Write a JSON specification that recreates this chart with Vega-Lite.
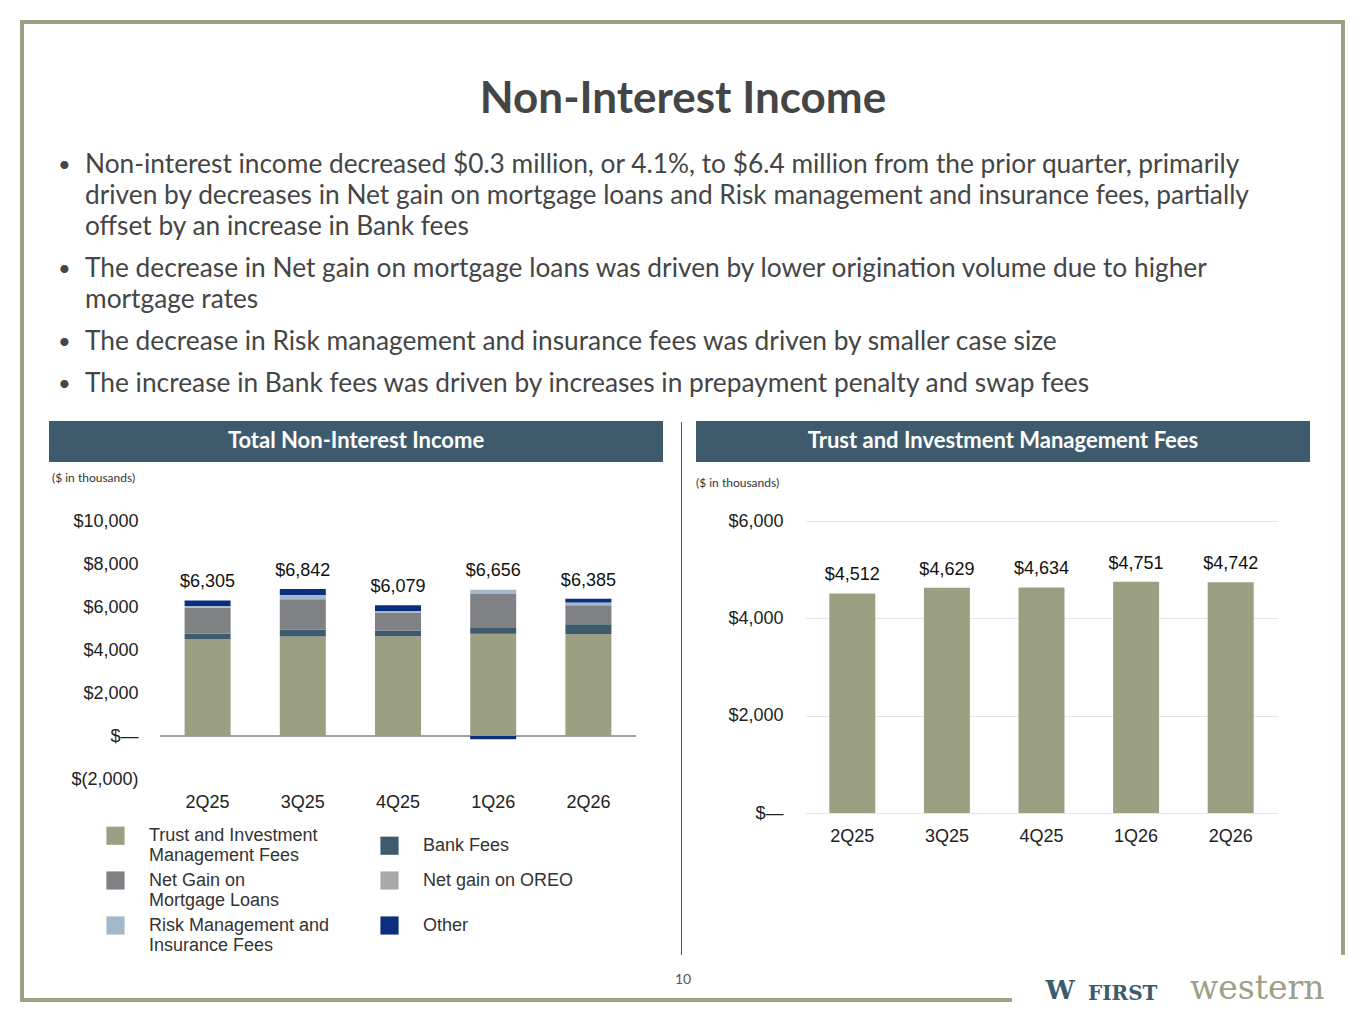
{
  "$schema": "https://vega.github.io/schema/vega-lite/v6.json",
  "background": "white",
  "padding": {"left": 20, "top": 20, "right": 0, "bottom": 0},
  "datasets": {
    "stack": [
      {"q": "2Q25", "cat": "Trust and Investment|Management Fees", "o": 1, "v": 4512},
      {"q": "2Q25", "cat": "Bank Fees", "o": 2, "v": 250},
      {"q": "2Q25", "cat": "Net Gain on|Mortgage Loans", "o": 3, "v": 1200},
      {"q": "2Q25", "cat": "Risk Management and|Insurance Fees", "o": 4, "v": 80},
      {"q": "2Q25", "cat": "Net gain on OREO", "o": 5, "v": 0},
      {"q": "2Q25", "cat": "Other", "o": 6, "v": 263},
      {"q": "3Q25", "cat": "Trust and Investment|Management Fees", "o": 1, "v": 4629},
      {"q": "3Q25", "cat": "Bank Fees", "o": 2, "v": 330},
      {"q": "3Q25", "cat": "Net Gain on|Mortgage Loans", "o": 3, "v": 1400},
      {"q": "3Q25", "cat": "Risk Management and|Insurance Fees", "o": 4, "v": 200},
      {"q": "3Q25", "cat": "Net gain on OREO", "o": 5, "v": 0},
      {"q": "3Q25", "cat": "Other", "o": 6, "v": 283},
      {"q": "4Q25", "cat": "Trust and Investment|Management Fees", "o": 1, "v": 4634},
      {"q": "4Q25", "cat": "Bank Fees", "o": 2, "v": 270},
      {"q": "4Q25", "cat": "Net Gain on|Mortgage Loans", "o": 3, "v": 845},
      {"q": "4Q25", "cat": "Risk Management and|Insurance Fees", "o": 4, "v": 60},
      {"q": "4Q25", "cat": "Net gain on OREO", "o": 5, "v": 0},
      {"q": "4Q25", "cat": "Other", "o": 6, "v": 270},
      {"q": "1Q26", "cat": "Trust and Investment|Management Fees", "o": 1, "v": 4751},
      {"q": "1Q26", "cat": "Bank Fees", "o": 2, "v": 310},
      {"q": "1Q26", "cat": "Net Gain on|Mortgage Loans", "o": 3, "v": 1545},
      {"q": "1Q26", "cat": "Risk Management and|Insurance Fees", "o": 4, "v": 200},
      {"q": "1Q26", "cat": "Net gain on OREO", "o": 5, "v": 0},
      {"q": "1Q26", "cat": "Other", "o": 6, "v": -150},
      {"q": "2Q26", "cat": "Trust and Investment|Management Fees", "o": 1, "v": 4742},
      {"q": "2Q26", "cat": "Bank Fees", "o": 2, "v": 450},
      {"q": "2Q26", "cat": "Net Gain on|Mortgage Loans", "o": 3, "v": 890},
      {"q": "2Q26", "cat": "Risk Management and|Insurance Fees", "o": 4, "v": 125},
      {"q": "2Q26", "cat": "Net gain on OREO", "o": 5, "v": 0},
      {"q": "2Q26", "cat": "Other", "o": 6, "v": 178}
    ],
    "totals": [
      {"q": "2Q25", "total": 6305, "top": 6305},
      {"q": "3Q25", "total": 6842, "top": 6842},
      {"q": "4Q25", "total": 6079, "top": 6079},
      {"q": "1Q26", "total": 6656, "top": 6856},
      {"q": "2Q26", "total": 6385, "top": 6385}
    ],
    "trust": [
      {"q": "2Q25", "v": 4512},
      {"q": "3Q25", "v": 4629},
      {"q": "4Q25", "v": 4634},
      {"q": "1Q26", "v": 4751},
      {"q": "2Q26", "v": 4742}
    ],
    "bullets": [
      {"line": 0, "b": "•", "t": "Non-interest income decreased $0.3 million, or 4.1%, to $6.4 million from the prior quarter, primarily"},
      {"line": 31, "b": "", "t": "driven by decreases in Net gain on mortgage loans and Risk management and insurance fees, partially"},
      {"line": 62, "b": "", "t": "offset by an increase in Bank fees"},
      {"line": 104, "b": "•", "t": "The decrease in Net gain on mortgage loans was driven by lower origination volume due to higher"},
      {"line": 135, "b": "", "t": "mortgage rates"},
      {"line": 177, "b": "•", "t": "The decrease in Risk management and insurance fees was driven by smaller case size"},
      {"line": 219, "b": "•", "t": "The increase in Bank fees was driven by increases in prepayment penalty and swap fees"}
    ],
    "one": [{"a": 1}]
  },
  "bounds": "flush",
  "spacing": 100,
  "vconcat": [
    {
      "width": 1100,
      "height": 256,
      "layer": [
        {
          "data": {"name": "bullets"},
          "encoding": {"y": {"field": "line", "type": "quantitative", "scale": {"domain": [0, 256], "range": [0, 256]}, "axis": null}},
          "layer": [
            {
              "mark": {"type": "text", "align": "left", "baseline": "middle", "font": "Lato", "fontSize": 26.3, "color": "#454545", "x": -75},
              "encoding": {"text": {"field": "t"}}
            },
            {
              "mark": {"type": "text", "align": "left", "baseline": "middle", "font": "Lato", "fontSize": 22, "color": "#454545", "x": -102},
              "encoding": {"text": {"field": "b"}}
            }
          ]
        },
        {
          "data": {"name": "one"},
          "layer": [
            {"mark": {"type": "text", "text": "Non-Interest Income", "fontSize": 44, "font": "Lato", "fontWeight": "bold", "color": "#454545", "x": 523, "y": -65, "baseline": "middle"}},
            {"mark": {"type": "rect", "color": "#9da085", "x": -140, "x2": 1185, "y": -145, "y2": -141}},
            {"mark": {"type": "rect", "color": "#9da085", "x": -140, "x2": -136, "y": -145, "y2": 837}},
            {"mark": {"type": "rect", "color": "#9da085", "x": -140, "x2": 852, "y": 833, "y2": 837}},
            {"mark": {"type": "rect", "color": "#9da085", "x": 1181, "x2": 1185, "y": -145, "y2": 790}},
            {"mark": {"type": "rect", "color": "#555555", "x": 521, "x2": 522, "y": 257, "y2": 790}},
            {"mark": {"type": "text", "text": "10", "font": "Lato", "fontSize": 14, "color": "#555", "x": 523, "y": 815, "baseline": "middle"}},
            {"mark": {"type": "text", "text": "W", "font": "DejaVu Serif", "fontWeight": "bold", "fontSize": 26, "color": "#3e5b6e", "x": 900, "y": 826, "baseline": "middle"}},
            {"mark": {"type": "text", "text": "FIRST", "font": "DejaVu Serif", "fontWeight": "bold", "fontSize": 20, "letterSpacing": 3, "color": "#3e5b6e", "x": 928, "y": 829, "baseline": "middle", "align": "left"}},
            {"mark": {"type": "text", "text": "western", "font": "DejaVu Serif", "fontSize": 33, "color": "#9da085", "x": 1030, "y": 824, "baseline": "middle", "align": "left"}}
          ]
        }
      ]
    },
    {
      "bounds": "flush",
      "spacing": 169,
      "resolve": {"legend": {"color": "independent"}},
      "hconcat": [
        {
          "width": 476, "height": 258,
          "layer": [
            {
              "data": {"name": "one"},
              "layer": [
                {"mark": {"type": "rect", "color": "#3e5b6e", "x": -111, "x2": 503, "y": -100, "y2": -59}},
                {"mark": {"type": "text", "text": "Total Non-Interest Income", "font": "Lato", "fontWeight": "bold", "fontSize": 22, "color": "white", "x": 196, "y": -80}},
                {"mark": {"type": "text", "text": "($ in thousands)", "font": "Lato", "fontSize": 12, "color": "#333", "align": "left", "x": -108, "y": -43}},
                {"mark": {"type": "rule", "color": "#444"}, "encoding": {"y": {"datum": 0}}}
              ]
            },
            {
              "data": {"name": "stack"},
              "mark": {"type": "bar", "width": 46},
              "encoding": {
                "x": {"field": "q", "type": "nominal", "sort": null, "title": null, "axis": {"labelAngle": 0, "labelFont": "Liberation Sans", "labelFontSize": 18, "labelColor": "#222", "domain": false, "ticks": false, "labelPadding": 14}},
                "y": {"field": "v", "type": "quantitative", "stack": "zero", "title": null, "scale": {"domain": [-2000, 10000]},
                  "axis": {"values": [-2000, 0, 2000, 4000, 6000, 8000, 10000], "labelExpr": "datum.value == 0 ? '$—' : datum.value < 0 ? '$(' + format(-datum.value, ',') + ')' : '$' + format(datum.value, ',')", "labelFont": "Liberation Sans", "labelFontSize": 18, "labelColor": "#222", "domain": false, "ticks": false, "gridColor": "#e6e6e6", "labelPadding": 22}},
                "color": {"field": "cat", "type": "nominal", "title": null,
                  "scale": {"domain": ["Trust and Investment|Management Fees", "Bank Fees", "Net Gain on|Mortgage Loans", "Net gain on OREO", "Risk Management and|Insurance Fees", "Other"], "range": ["#9ba083", "#3e5b6e", "#7f8185", "#a9a9ab", "#a3b8c9", "#0b2e7f"]},
                  "legend": {"orient": "none", "legendX": -54, "legendY": 305, "columns": 2, "direction": "horizontal", "symbolType": "square", "symbolSize": 330, "symbolStrokeWidth": 0, "labelFont": "Liberation Sans", "labelFontSize": 18, "labelColor": "#333", "labelExpr": "split(datum.label, '|')", "labelLimit": 300, "columnPadding": 50, "rowPadding": 6, "labelOffset": 24, "padding": 0}},
                "order": {"field": "o"}
              }
            },
            {
              "data": {"name": "totals"},
              "mark": {"type": "text", "dy": -18, "font": "Liberation Sans", "fontSize": 18, "color": "#111"},
              "encoding": {"x": {"field": "q", "type": "nominal", "sort": null}, "y": {"field": "top", "type": "quantitative"}, "text": {"field": "total", "format": "$,d"}}
            }
          ]
        },
        {
          "width": 473, "height": 292,
          "layer": [
            {
              "data": {"name": "one"},
              "layer": [
                {"mark": {"type": "rect", "color": "#3e5b6e", "x": -109, "x2": 505, "y": -100, "y2": -59}},
                {"mark": {"type": "text", "text": "Trust and Investment Management Fees", "font": "Lato", "fontWeight": "bold", "fontSize": 22, "color": "white", "x": 198, "y": -80}},
                {"mark": {"type": "text", "text": "($ in thousands)", "font": "Lato", "fontSize": 12, "color": "#333", "align": "left", "x": -109, "y": -38}}
              ]
            },
            {
              "data": {"name": "trust"},
              "mark": {"type": "bar", "width": 46, "color": "#9ba083"},
              "encoding": {
                "x": {"field": "q", "type": "nominal", "sort": null, "title": null, "axis": {"labelAngle": 0, "labelFont": "Liberation Sans", "labelFontSize": 18, "labelColor": "#222", "domain": false, "ticks": false, "labelPadding": 14}},
                "y": {"field": "v", "type": "quantitative", "title": null, "scale": {"domain": [0, 6000]},
                  "axis": {"values": [0, 2000, 4000, 6000], "labelExpr": "datum.value == 0 ? '$—' : '$' + format(datum.value, ',')", "labelFont": "Liberation Sans", "labelFontSize": 18, "labelColor": "#222", "domain": false, "ticks": false, "gridColor": "#e6e6e6", "labelPadding": 22}}
              }
            },
            {
              "data": {"name": "trust"},
              "mark": {"type": "text", "dy": -18, "font": "Liberation Sans", "fontSize": 18, "color": "#111"},
              "encoding": {"x": {"field": "q", "type": "nominal", "sort": null}, "y": {"field": "v", "type": "quantitative"}, "text": {"field": "v", "format": "$,d"}}
            }
          ]
        }
      ]
    }
  ],
  "config": {"view": {"stroke": null}, "font": "Lato"}
}
